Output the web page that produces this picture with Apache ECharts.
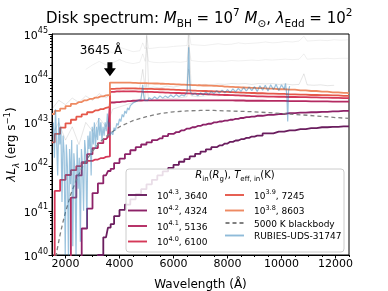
<!DOCTYPE html>
<html><head><meta charset="utf-8">
<script src="https://cdn.jsdelivr.net/npm/echarts@6/dist/echarts.min.js"></script>
<style>html,body{margin:0;padding:0;background:#fff}#c{width:388px;height:291px}</style>
</head><body><div id="c"></div>
<script>
// ---------- data (log10 of lambda*L_lambda, erg/s) ----------
const wl = [1500,1700,1900,2100,2300,2500,2700,2900,3100,3300,3500,3645,3645,3700,3900,4100,4300,4500,4700,4900,5100,5300,5500,5700,5900,6100,6300,6500,6700,6900,7100,7300,7500,7700,7900,8100,8300,8500,8700,8900,9100,9500,9900,10300,10700,11100,11500,11900,12300,12500];
const m38 = [43.19,43.26,43.31,43.37,43.42,43.46,43.50,43.53,43.56,43.59,43.61,43.62,43.90,43.90,43.90,43.90,43.90,43.895,43.89,43.89,43.885,43.88,43.875,43.87,43.865,43.86,43.855,43.85,43.845,43.84,43.835,43.83,43.825,43.82,43.81,43.805,43.80,43.79,43.785,43.78,43.775,43.765,43.75,43.74,43.725,43.71,43.695,43.68,43.67,43.66];
const m39 = [42.55,42.74,42.88,42.98,43.06,43.13,43.18,43.23,43.27,43.30,43.33,43.35,43.76,43.76,43.765,43.77,43.77,43.77,43.765,43.76,43.76,43.755,43.75,43.745,43.74,43.735,43.73,43.725,43.72,43.715,43.71,43.705,43.70,43.695,43.69,43.685,43.68,43.675,43.67,43.665,43.66,43.65,43.645,43.635,43.63,43.62,43.615,43.61,43.60,43.60];
const m40 = [39.0,41.45,41.70,41.81,41.92,42.01,42.08,42.13,42.16,42.19,42.22,42.23,43.69,43.69,43.70,43.70,43.70,43.70,43.695,43.69,43.69,43.685,43.68,43.675,43.67,43.665,43.66,43.655,43.65,43.645,43.64,43.635,43.63,43.625,43.62,43.615,43.61,43.605,43.60,43.595,43.59,43.585,43.58,43.575,43.57,43.565,43.56,43.555,43.55,43.55];
const m41 = [39,39,39,39,41.3,41.8,42.1,42.28,42.42,42.53,42.62,42.67,43.45,43.45,43.46,43.47,43.48,43.49,43.495,43.50,43.50,43.50,43.50,43.50,43.50,43.50,43.50,43.50,43.50,43.50,43.50,43.50,43.50,43.50,43.50,43.50,43.495,43.495,43.49,43.49,43.49,43.485,43.485,43.48,43.48,43.475,43.475,43.47,43.47,43.47];
const m42 = [39,39,39,39,39,39.9,40.6,41.05,41.4,41.62,41.8,41.9,41.9,41.95,42.08,42.18,42.28,42.37,42.44,42.5,42.55,42.6,42.64,42.69,42.74,42.78,42.82,42.86,42.89,42.92,42.95,42.97,43.0,43.02,43.04,43.06,43.08,43.1,43.12,43.13,43.15,43.17,43.19,43.21,43.22,43.23,43.24,43.25,43.26,43.26];
const m43 = [39,39,39,39,39,39,39,39,39.5,40.0,40.4,40.62,40.62,40.7,40.88,41.02,41.14,41.26,41.38,41.49,41.6,41.7,41.8,41.89,41.97,42.04,42.11,42.17,42.23,42.29,42.34,42.39,42.44,42.48,42.52,42.56,42.59,42.62,42.65,42.68,42.7,42.75,42.79,42.82,42.85,42.87,42.89,42.9,42.91,42.91];

const bbWl  = [1600,1700,1800,1900,2000,2200,2400,2600,2800,3000,3300,3645,4000,4500,5000,5500,6000,6500,7000,7500,8000,9000,10000,11000,12000,12500];
const bbLog = [39.80,40.15,40.46,40.73,40.97,41.38,41.70,41.96,42.17,42.35,42.57,42.75,42.90,43.04,43.13,43.20,43.24,43.26,43.27,43.27,43.26,43.24,43.20,43.16,43.11,43.09];

const blueWl = [1550,1590,1630,1670,1710,1750,1790,1830,1870,1910,1950,1990,2030,2070,2110,2150,2190,2230,2270,2310,2350,2390,2430,2470,2510,2550,2590,2630,2670,2710,2750,2790,2830,2870,2910,2950,2990,3030,3070,3110,3150,3190,3230,3270,3310,3350,3390,3430,3470,3510,3550,3590,3630,
  3650,3700,3750,3800,3850,3900,3950,4000,4050,4100,4150,4200,4250,4300,4350,4400,4450,4500,4550,4600,4650,4700,4750,4800,4860,4920,4980,5040,5100,5200,5300,5400,5500,5600,5700,5800,5900,6000,6100,6200,6300,6400,6500,6540,6563,6590,6620,6700,6800,6900,7000,7100,7200,7300,7400,7500,7600,7700,7800,7900,8000,8100,8200,8300,8400,8500,8600,8700,8800,8900,9000,9100,9200,9300,9400,9500,9600,9700,9800,9900,10000,10100,10150,10200,10230,10260,10300];
const blueLog = [43.0,42.2,43.3,42.6,41.8,43.1,42.5,42.9,41.2,42.7,42.3,40.0,42.5,42.0,39.8,42.4,41.6,42.6,40.2,42.3,41.9,39.9,42.5,41.5,42.2,40.3,42.4,42.0,41.0,42.6,42.3,40.6,42.7,42.4,42.8,41.8,42.9,42.5,43.0,42.4,42.9,42.6,43.1,42.7,43.0,42.6,42.9,42.7,43.0,42.8,43.2,42.9,43.0,
  42.70,42.78,42.72,42.88,42.82,42.98,42.93,43.08,43.02,43.18,43.12,43.26,43.20,43.33,43.28,43.38,43.34,43.44,43.40,43.47,43.43,43.50,43.46,43.52,43.85,43.50,43.54,43.49,43.56,43.52,43.58,43.53,43.60,43.55,43.60,43.56,43.62,43.57,43.63,43.58,43.62,43.60,43.68,44.20,44.70,44.10,43.70,43.62,43.66,43.60,43.67,43.62,43.69,43.63,43.70,43.65,43.72,43.66,43.73,43.67,43.74,43.68,43.76,43.69,43.77,43.70,43.79,43.71,43.80,43.72,43.81,43.70,43.83,43.73,43.84,43.71,43.85,43.74,43.86,43.72,43.85,43.75,43.88,43.60,43.02,43.70,43.82];

const grayWl = [1500,1750,2000,2250,2500,2750,3000,3250,3500,3750,4000,4250,4500,4750,4861,4950,5007,5080,5250,5500,5750,6000,6250,6500,6563,6650,6900,7150,7400,7650,7900,8150,8400,8650,8900,9150,9400,9650,9900,10150,10400,10650,10830,10950,11200,11450,11700,11950,12200,12500];
const grayA = [null,null,null,null,null,44.55,44.6,44.72,44.62,44.58,44.7,44.65,44.6,44.62,44.8,44.66,44.95,44.67,44.68,44.7,44.7,44.72,44.73,44.74,45.1,44.76,44.75,44.74,44.76,44.78,44.76,44.77,44.8,44.78,44.79,44.8,44.82,44.8,44.81,44.83,44.82,44.84,44.95,44.84,44.85,44.86,44.85,44.87,44.86,44.87];
const grayB = [null,null,null,null,null,44.2,44.3,44.38,44.3,44.35,44.42,44.36,44.33,44.36,44.55,44.38,44.7,44.38,44.36,44.35,44.36,44.37,44.36,44.38,44.75,44.4,44.38,44.37,44.38,44.39,44.38,44.4,44.39,44.4,44.41,44.4,44.42,44.41,44.42,44.43,44.42,44.43,44.55,44.43,44.44,44.44,44.45,44.44,44.45,44.45];
const grayC = [43.3,43.5,43.4,43.55,43.45,43.6,43.5,43.65,43.55,43.7,43.68,43.75,43.72,43.78,44.2,43.76,44.98,43.78,43.8,43.78,43.82,43.8,43.83,43.85,45.0,43.86,43.84,43.86,43.85,43.87,43.86,43.88,43.87,43.88,43.86,43.88,43.87,43.88,43.86,43.87,43.85,43.86,44.1,43.85,43.84,43.85,43.83,43.84,null,null];
const grayD = [42.7,43.0,42.6,42.9,42.5,43.0,42.8,43.1,42.9,43.3,43.35,43.4,43.45,43.5,43.7,43.48,43.9,43.5,43.5,43.52,43.55,43.53,43.56,43.58,44.2,43.6,43.58,43.6,43.62,43.6,43.63,43.62,43.64,43.63,43.65,43.64,43.66,43.65,43.66,null,null,null,null,null,null,null,null,null,null,null];

const xTicks = [2000,4000,6000,8000,10000,12000];
const xMinor = [1500,2500,3000,3500,4500,5000,5500,6500,7000,7500,8500,9000,9500,10500,11000,11500,12500];
const yExps = [40,41,42,43,44,45];
const yMinorMult = [2,3,4,5,6,7,8,9];
const arrowWl = 3645, arrowLog = 44.2;

const modelNames = ['m43','m42','m41','m40','m39','m38'];
const modelExp = {m43:'4.3',m42:'4.2',m41:'4.1',m40:'4.0',m39:'3.9',m38:'3.8'};
const modelT = {m43:'3640',m42:'4324',m41:'5136',m40:'6100',m39:'7245',m38:'8603'};
const modelColor = {m43:'#6a1d5e',m42:'#8d2268',m41:'#b42a61',m40:'#d53858',m39:'#e5584a',m38:'#ee8a62'};
const modelData = {m43,m42,m41,m40,m39,m38};

// ---------- build ----------
const fam = 'DejaVu Sans';
function pairs(xs, logs){ const o=[]; for(let i=0;i<xs.length;i++){ if(logs[i]!=null) o.push([xs[i], Math.pow(10, logs[i])]); } return o; }
const yMinor = []; yExps.slice(0,-1).forEach(e => yMinorMult.forEach(m => yMinor.push(m*Math.pow(10,e))));

const series = [];
[grayA,grayB].forEach(g => series.push({type:'line', data:pairs(grayWl,g), symbol:'none', silent:true, lineStyle:{color:'#808080', width:1, opacity:0.12}, z:1}));
[grayC,grayD].forEach(g => series.push({type:'line', data:pairs(grayWl,g), symbol:'none', silent:true, lineStyle:{color:'#808080', width:1, opacity:0.2}, z:1}));
modelNames.forEach(n => {
  series.push({name:n, type:'line', step:'middle', data:pairs(wl, modelData[n]), symbol:'none', lineStyle:{color:modelColor[n], width:1.8}, itemStyle:{color:modelColor[n]}, z:3});
});
series.push({name:'5000 K blackbody', type:'line', data:pairs(bbWl,bbLog), symbol:'none', lineStyle:{color:'#808080', width:1.3, type:[4,3]}, itemStyle:{color:'#808080'}, z:3});
series.push({name:'RUBIES-UDS-31747', type:'line', data:pairs(blueWl,blueLog), symbol:'none', lineStyle:{color:'#1f77b4', width:1.2, opacity:0.45}, itemStyle:{color:'#8fbbd9'}, z:4});

const solidIcon = 'path://M0,0 L20,0 L20,2 L0,2 Z';
const dashIcon = 'path://M0,0 L4,0 L4,2 L0,2 Z M7,0 L11,0 L11,2 L7,2 Z M14,0 L18,0 L18,2 L14,2 Z';
const lgRich = {
  b:{fontFamily:fam, fontSize:9, color:'#000', lineHeight:12, verticalAlign:'bottom'},
  s:{fontFamily:fam, fontSize:6.5, color:'#000', lineHeight:8, verticalAlign:'top'}
};
const lgFmt = n => modelExp[n] ? `{b|10}{s|${modelExp[n]}}{b|, ${modelT[n]}}` : `{b|${n}}`;
const lgItem = n => ({name:n, icon: n === '5000 K blackbody' ? dashIcon : solidIcon});
const lgBase = {orient:'vertical', itemWidth:19, itemHeight:2, itemGap:3.5, selectedMode:false, formatter:lgFmt, z:5,
  textStyle:{fontFamily:fam, fontSize:9, color:'#000', rich:lgRich, padding:[0,0,0,5]}};

const option = {
  animation:false,
  backgroundColor:'#fff',
  title:{
    text:'{n|Disk spectrum: }{i|M}{sub|BH}{n| = 10}{sup|7}{n| }{i|M}{sub|⊙}{n|, }{i|λ}{sub|Edd}{n| = 10}{sup|2}',
    left:46, top:8, padding:0,
    textStyle:{fontWeight:'normal', rich:{
      n:{fontFamily:fam, fontSize:15, fontWeight:'normal', color:'#000', lineHeight:22, verticalAlign:'middle'},
      i:{fontFamily:fam, fontSize:15, fontWeight:'normal', fontStyle:'italic', color:'#000', lineHeight:22, verticalAlign:'middle'},
      sub:{fontFamily:fam, fontSize:10.5, fontWeight:'normal', color:'#000', lineHeight:10, verticalAlign:'bottom'},
      sup:{fontFamily:fam, fontSize:10.5, fontWeight:'normal', color:'#000', lineHeight:12, verticalAlign:'top'}
    }}
  },
  grid:{left:52, right:39, top:34, bottom:36, containLabel:false, outerBoundsMode:'none', show:true, borderColor:'#000', borderWidth:1, backgroundColor:'transparent'},
  xAxis:[{
    type:'value', min:1500, max:12500,
    axisLine:{show:true, lineStyle:{color:'#000', width:1}},
    axisTick:{show:true, length:3.5, customValues:xTicks, lineStyle:{color:'#000'}},
    axisLabel:{customValues:xTicks, formatter:v => String(v), color:'#000', fontFamily:fam, fontSize:11, margin:4},
    splitLine:{show:false},
    name:'Wavelength (Å)', nameLocation:'middle', nameGap:24, nameMoveOverlap:false,
    nameTextStyle:{fontFamily:fam, fontSize:12, color:'#000'}
  },{
    type:'value', min:1500, max:12500, position:'bottom',
    axisLine:{show:false}, axisLabel:{show:false}, splitLine:{show:false},
    axisTick:{show:true, length:2, customValues:xMinor, lineStyle:{color:'#000'}}
  }],
  yAxis:[{
    type:'log', logBase:10, min:Math.pow(10,yExps[0]), max:Math.pow(10,yExps[yExps.length-1]), splitNumber:5,
    axisLine:{show:true, lineStyle:{color:'#000', width:1}},
    axisTick:{show:true, length:3.5, lineStyle:{color:'#000'}},
    axisLabel:{margin:4, showMinLabel:true, showMaxLabel:true, formatter:v => '{b|10}{s|' + Math.round(Math.log10(v)) + '}',
      rich:{b:{fontFamily:fam, fontSize:11, color:'#000', lineHeight:15, verticalAlign:'bottom'},
            s:{fontFamily:fam, fontSize:8, color:'#000', lineHeight:10, verticalAlign:'top'}}},
    splitLine:{show:false},
    name:'{i|λL}{sub|λ}{n| (erg s}{sup|−1}{n|)}', nameLocation:'middle', nameGap:31, nameRotate:90, nameMoveOverlap:false,
    nameTextStyle:{rich:{
      n:{fontFamily:fam, fontSize:12, color:'#000', lineHeight:18, verticalAlign:'middle'},
      i:{fontFamily:fam, fontSize:12, fontStyle:'italic', color:'#000', lineHeight:18, verticalAlign:'middle'},
      sub:{fontFamily:fam, fontSize:8.5, fontStyle:'italic', color:'#000', lineHeight:8, verticalAlign:'bottom'},
      sup:{fontFamily:fam, fontSize:8.5, color:'#000', lineHeight:10, verticalAlign:'top'}
    }}
  },{
    type:'log', logBase:10, min:Math.pow(10,yExps[0]), max:Math.pow(10,yExps[yExps.length-1]), position:'left',
    axisLine:{show:false}, axisLabel:{show:false}, splitLine:{show:false},
    axisTick:{show:true, length:2, customValues:yMinor, lineStyle:{color:'#000'}}
  }],
  legend:[
    Object.assign({left:123, top:184, data:['m43','m42','m41','m40'].map(lgItem)}, lgBase),
    Object.assign({left:220, top:184, data:['m39','m38','5000 K blackbody','RUBIES-UDS-31747'].map(lgItem)}, lgBase)
  ],
  series
};
const chart = echarts.init(document.getElementById('c'));
chart.setOption(option);

// annotation arrow at 3645 Å, placed through the chart's own scales
const tip = chart.convertToPixel({gridIndex:0}, [arrowWl, Math.pow(10, arrowLog)]);
chart.setOption({graphic:[
  {type:'rect', z:4, shape:{x:126, y:169, width:218, height:83, r:3}, style:{fill:'rgba(255,255,255,0.85)', stroke:'#cccccc', lineWidth:1}},
  {type:'text', z:6, x:235, y:175, style:{
    text:'{i|R}{sub|in}{n|(}{i|R}{sub|g}{n|), }{i|T}{sub|eff, in}{n|(K)}',
    align:'center', verticalAlign:'middle',
    rich:{
      n:{fontFamily:fam, fontSize:10, fill:'#000', lineHeight:16, verticalAlign:'middle'},
      i:{fontFamily:fam, fontSize:10, fontStyle:'italic', fill:'#000', lineHeight:16, verticalAlign:'middle'},
      sub:{fontFamily:fam, fontSize:7, fill:'#000', lineHeight:8, verticalAlign:'bottom'}
    }}},
  {type:'polygon', z:7, x:tip[0], y:tip[1], shape:{points:[[-2.5,-7],[2.5,-7],[2.5,-1],[6,-1],[0,7],[-6,-1],[-2.5,-1]]}, style:{fill:'#000'}},
  {type:'text', z:7, x:tip[0]-9, y:tip[1]-18, style:{text:'3645 Å', fontFamily:fam, fontSize:12, fill:'#000', align:'center', verticalAlign:'middle'}}
]});
</script></body></html>
